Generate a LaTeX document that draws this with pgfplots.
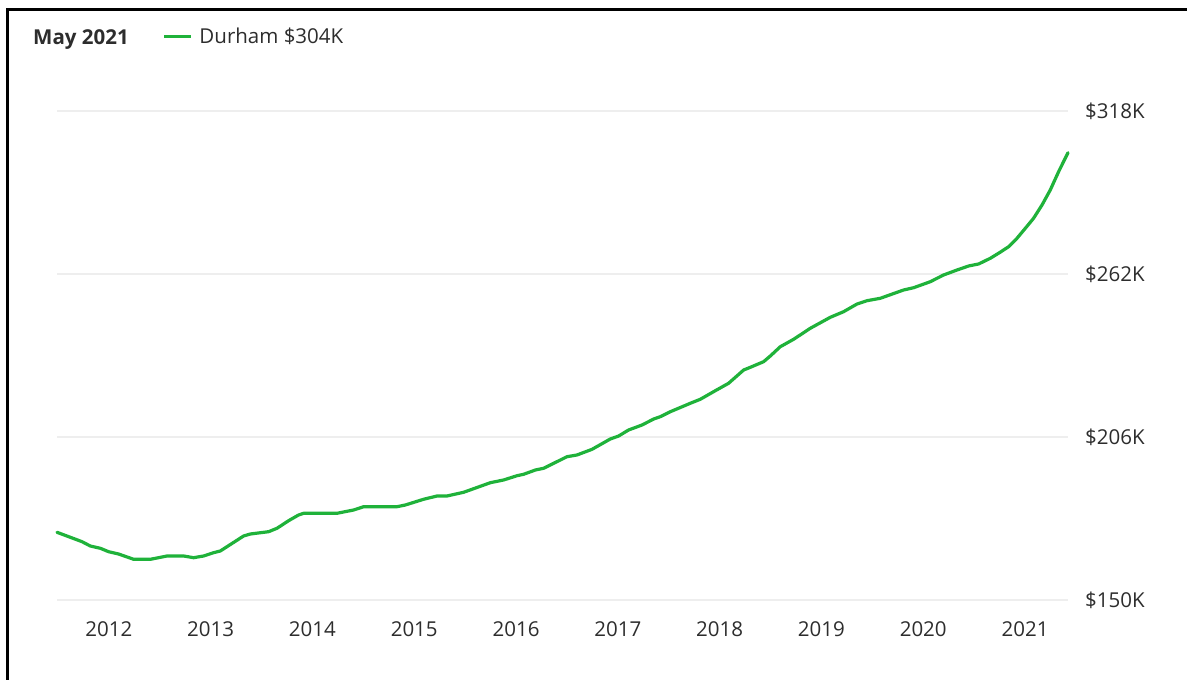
\documentclass[border=0pt]{standalone}
\usepackage{fontspec}
\setmainfont{Open Sans}
\usepackage{pgfplots}
\pgfplotsset{compat=1.18}
\definecolor{durgreen}{RGB}{31,178,58}
\definecolor{txt}{RGB}{45,45,45}
\definecolor{gridc}{RGB}{238,238,238}
\newcommand{\chartfont}{\fontsize{20.5}{24}\selectfont}
\begin{document}
\chartfont
\begin{tikzpicture}[x=1pt,y=1pt]
\useasboundingbox (0,0) rectangle (1187,680);
\fill[white] (0,0) rectangle (1187,680);
\draw[line width=2.6pt, black] (7.2,-5) -- (7.2,670.5) -- (1195,670.5);
\node[anchor=base west, inner sep=0pt, text=txt, font=\chartfont\bfseries] at (33,635.7) {May 2021};
\begin{axis}[
  at={(57pt,80pt)}, anchor=south west,
  scale only axis, width=1011pt, height=489pt,
  xmin=2011.491, xmax=2021.422, ymin=150, ymax=318,
  clip=false,
  axis line style={draw=none},
  tick style={draw=none},
  major tick length=0pt,
  xtick={2012,2013,2014,2015,2016,2017,2018,2019,2020,2021},
  xticklabels={2012,2013,2014,2015,2016,2017,2018,2019,2020,2021},
  ytick={150,206,262,318},
  yticklabels={\$150K,\$206K,\$262K,\$318K},
  yticklabel pos=right,
  ymajorgrids,
  grid style={gridc, line width=1.8pt},
  xticklabel style={anchor=north, inner sep=0pt, yshift=-21.5pt, text=txt, font=\chartfont},
  yticklabel style={anchor=base west, inner sep=0pt, xshift=17pt, yshift=-7.3pt, text=txt, font=\chartfont},
  legend style={at={(axis description cs:0.10485,1.15133)}, anchor=west, draw=none, fill=none,
    inner sep=0pt, outer sep=0pt, font=\chartfont,
    nodes={inner sep=0pt, text=txt},
    /tikz/every odd column/.style={column sep=6.5pt},
    /tikz/every even column/.style={column sep=0pt}},
  legend cell align=left,
  legend image code/.code={\draw[#1, line width=3pt, line cap=butt] (0pt,0pt) -- (27pt,0pt);},
]
\addplot[durgreen, line width=3.2pt, line join=round, line cap=round] coordinates {
(2011.491,173.26) (2011.737,170.03) (2011.818,168.55) (2011.917,167.76) (2011.998,166.59)
(2012.096,165.80) (2012.244,163.98) (2012.408,163.98) (2012.572,165.12) (2012.735,165.12)
(2012.833,164.53) (2012.931,165.12) (2013.029,166.25) (2013.095,166.83) (2013.324,171.99)
(2013.390,172.67) (2013.570,173.47) (2013.652,174.63) (2013.766,177.24) (2013.864,179.20)
(2013.914,179.79) (2014.242,179.79) (2014.405,180.92) (2014.503,182.05) (2014.831,182.05)
(2014.913,182.64) (2015.092,184.60) (2015.224,185.73) (2015.322,185.73) (2015.485,187.00)
(2015.748,190.30) (2015.878,191.23) (2016.010,192.70) (2016.075,193.19) (2016.190,194.66)
(2016.271,195.25) (2016.501,199.23) (2016.599,199.82) (2016.747,201.77) (2016.926,205.31)
(2017.008,206.34) (2017.106,208.41) (2017.238,210.12) (2017.352,212.18) (2017.417,212.97)
(2017.516,214.69) (2017.712,217.58) (2017.810,218.95) (2017.958,221.91) (2018.088,224.45)
(2018.236,229.02) (2018.302,229.95) (2018.432,231.87) (2018.498,233.83) (2018.596,237.02)
(2018.727,239.57) (2018.891,243.35) (2019.087,247.12) (2019.218,249.05) (2019.350,251.69)
(2019.448,252.83) (2019.578,253.65) (2019.807,256.50) (2019.906,257.29) (2020.070,259.36)
(2020.200,261.66) (2020.332,263.37) (2020.446,264.75) (2020.544,265.44) (2020.659,267.39)
(2020.757,269.50) (2020.839,271.38) (2020.921,274.27) (2021.003,277.70) (2021.084,281.14)
(2021.167,285.71) (2021.248,290.86) (2021.330,297.15) (2021.422,303.67)
};
\addlegendentry{Durham \$304K}
\end{axis}
\end{tikzpicture}
\end{document}
